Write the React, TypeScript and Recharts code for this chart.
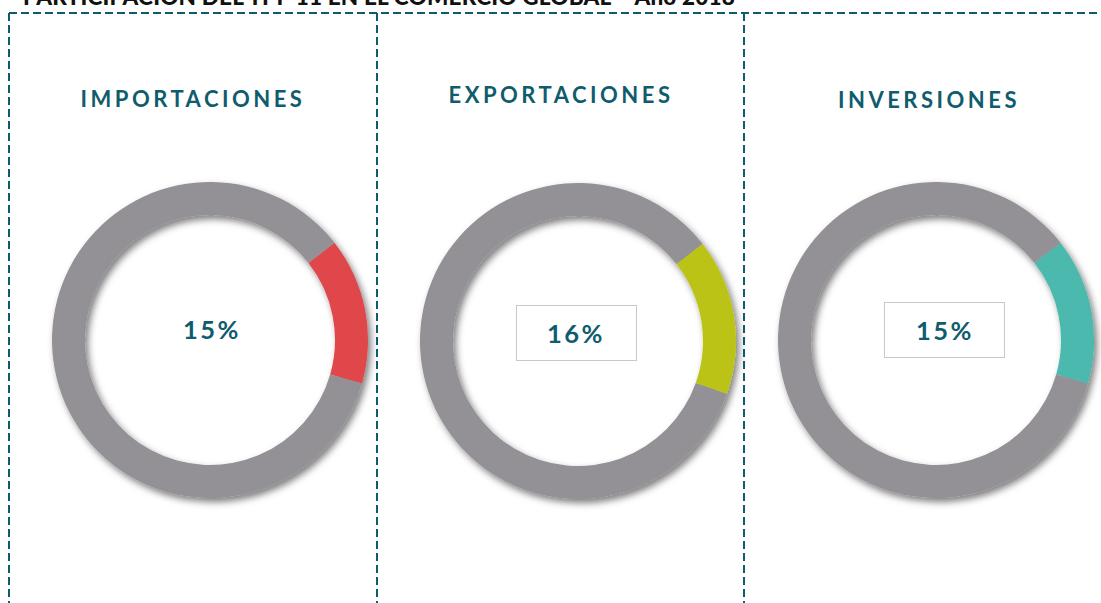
import React from 'react';
import { PieChart, Pie, Cell } from 'recharts';

const panelTitles = ['IMPORTACIONES', 'EXPORTACIONES', 'INVERSIONES'];
const shareLabels = ['15%', '16%', '15%'];
const importaciones = [
  { name: 'TPP11', value: 15 },
  { name: 'Resto', value: 85 },
];
const exportaciones = [
  { name: 'TPP11', value: 16 },
  { name: 'Resto', value: 84 },
];
const inversiones = [
  { name: 'TPP11', value: 15 },
  { name: 'Resto', value: 85 },
];
const accentColors = ['#DF474B', '#BAC319', '#4CB9AE'];
const restColor = '#939196';

const TEAL = '#0F5C6E';
const FONT = 'Lato, "Open Sans", sans-serif';

const panels = [
  { data: importaciones, cx: 210, cy: 340, titleX: 193, titleY: 99, labelX: 212, labelY: 329, box: null as null | number[] },
  { data: exportaciones, cx: 578, cy: 341, titleX: 561, titleY: 95, labelX: 576, labelY: 333, box: [516, 305, 121, 56] },
  { data: inversiones, cx: 936, cy: 340, titleX: 929, titleY: 100, labelX: 945, labelY: 330, box: [884, 302, 121, 56] },
];

export default function App() {
  return (
    <div style={{ position: 'absolute', left: 0, top: 0, width: 1101, height: 603, overflow: 'hidden', background: '#fff', fontFamily: FONT }}>
      <style>{`.ring-pie .recharts-pie { filter: url(#ringShadow); }`}</style>
      <svg width={0} height={0} style={{ position: 'absolute' }}>
        <defs>
          <filter id="ringShadow" x="-20%" y="-20%" width="140%" height="140%">
            <feDropShadow dx={3} dy={4} stdDeviation={3.5} floodColor="#000" floodOpacity={0.5} />
          </filter>
        </defs>
      </svg>
      <div
        style={{
          position: 'absolute', left: 23, top: -17, fontSize: 22.5, lineHeight: '27px', fontWeight: 900, color: '#111',
          whiteSpace: 'nowrap', fontFamily: FONT, letterSpacing: 0.2,
        }}
      >
        PARTICIPACIÓN DEL TPP 11 EN EL COMERCIO GLOBAL – Año 2018
      </div>
      <svg width={1101} height={603} style={{ position: 'absolute', left: 0, top: 0 }}>
        <g stroke={TEAL} strokeWidth={2} strokeDasharray="8 4" fill="none">
          <line x1={9} y1={13} x2={1101} y2={13} />
          <line x1={9} y1={13} x2={9} y2={603} />
          <line x1={377} y1={13} x2={377} y2={603} />
          <line x1={744} y1={13} x2={744} y2={603} />
        </g>
      </svg>
      <div className="ring-pie" style={{ position: 'absolute', left: 0, top: 0 }}>
        <PieChart width={1101} height={603} margin={{ top: 0, right: 0, bottom: 0, left: 0 }}>
          {panels.map((p, i) => (
            <Pie
              key={i}
              data={p.data}
              dataKey="value"
              cx={p.cx}
              cy={p.cy}
              innerRadius={125}
              outerRadius={158}
              startAngle={38}
              endAngle={-322}
              stroke="none"
              isAnimationActive={false}
            >
              {p.data.map((d, j) => (
                <Cell key={j} fill={j === 0 ? accentColors[i] : restColor} />
              ))}
            </Pie>
          ))}
        </PieChart>
      </div>
      {panels.map((p, i) => (
        <React.Fragment key={i}>
          <div
            style={{
              position: 'absolute', left: p.titleX - 150, width: 300, top: p.titleY - 14, height: 28, lineHeight: '28px',
              textAlign: 'center', fontSize: 22, fontWeight: 700, color: TEAL, letterSpacing: 3.5, fontFamily: FONT,
            }}
          >
            {panelTitles[i]}
          </div>
          {p.box && (
            <div
              style={{
                position: 'absolute', left: p.box[0], top: p.box[1], width: p.box[2], height: p.box[3],
                border: '1px solid #C8C8C8', boxSizing: 'border-box', background: '#fff',
              }}
            />
          )}
          <div
            style={{
              position: 'absolute', left: p.labelX - 60, width: 120, top: p.labelY - 16, height: 32, lineHeight: '32px',
              textAlign: 'center', fontSize: 25.5, fontWeight: 700, color: TEAL, letterSpacing: 2.5, fontFamily: FONT,
            }}
          >
            {shareLabels[i]}
          </div>
        </React.Fragment>
      ))}
    </div>
  );
}
